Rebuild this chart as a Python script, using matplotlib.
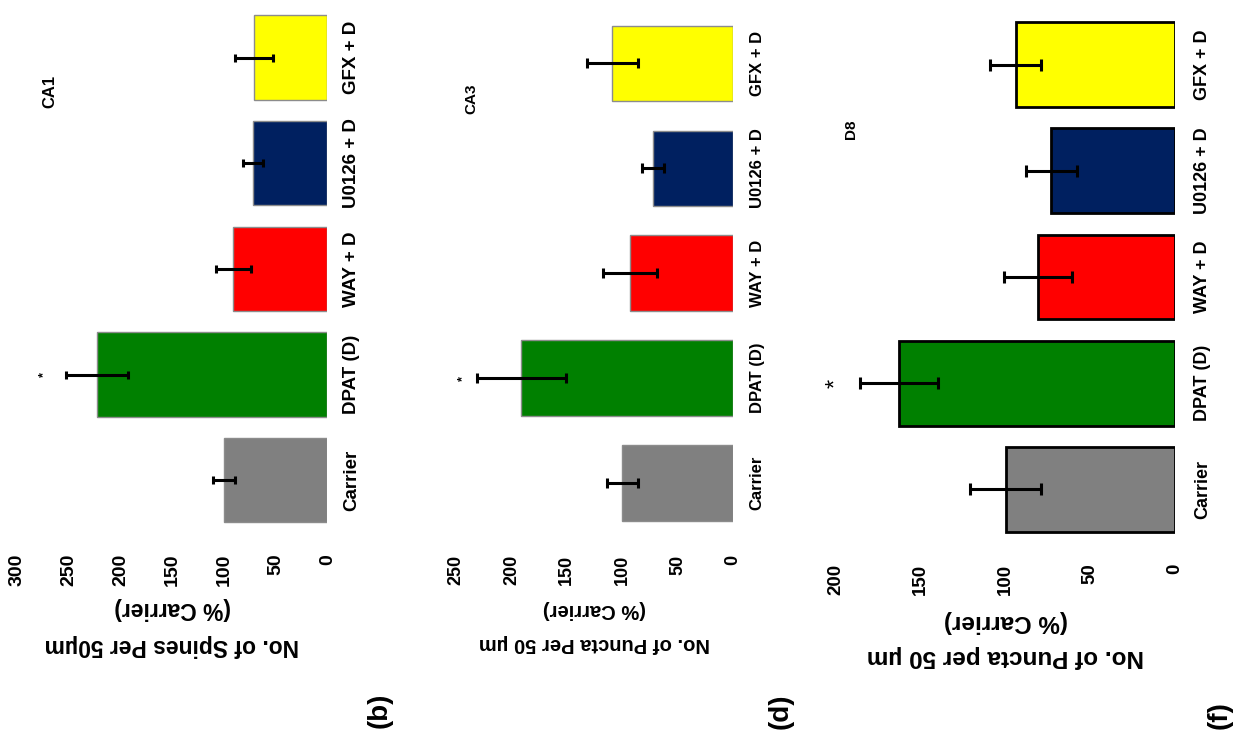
import matplotlib
matplotlib.use('Agg')
import matplotlib.pyplot as plt
import numpy as np

plt.rcParams['font.family'] = ['Liberation Sans', 'DejaVu Sans']
plt.rcParams['font.weight'] = 'bold'

# ---------------- data ----------------
categories = ['Carrier', 'DPAT (D)', 'WAY + D', 'U0126 + D', 'GFX + D']
bar_colors = ['#808080', '#008000', '#FF0000', '#002060', '#FFFF00']

spines_b = [100, 223, 91, 72, 71]
spines_b_err = [11, 30, 17, 10, 18]
ticks_b = [0, 50, 100, 150, 200, 250, 300]

puncta_d = [100, 191, 93, 72, 109]
puncta_d_err = [14, 40, 24, 10, 23]
ticks_d = [0, 50, 100, 150, 200, 250]

puncta_f = [100, 163, 81, 73, 94]
puncta_f_err = [21, 23, 20, 15, 15]
ticks_f = [0, 50, 100, 150, 200]

label_b = 'No. of Spines Per 50µm\n(% Carrier)'
label_d = 'No. of Puncta Per 50 µm\n(% Carrier)'
label_f = 'No. of Puncta per 50 µm\n(% Carrier)'
regions = ['CA1', 'CA3', 'D8']
tags = ['(b)', '(d)', '(f)']
star_index = 1  # DPAT (D) marked significant

# ---------------- layout / style ----------------
W, H = 1238, 734
fig = plt.figure(figsize=(W / 100, H / 100), dpi=100)

panels = [
    dict(vals=spines_b, errs=spines_b_err, ticks=ticks_b, label=label_b,
         box=(17, 327.5, 4.7, 533), height=0.80, edge='#8c8c8c', elw=1.0,
         tfs=14, cfs=13.5, lfs=16.5, tpad=15, cpad=11, lpad=8, ls=1.75,
         reg_pos=(0.106, 0.835), rfs=12, tag_pos=(380, 710), star_off=21,
         star_fs=9, err_lw=2.2, cap=3.2),
    dict(vals=puncta_d, errs=puncta_d_err, ticks=ticks_d, label=label_d,
         box=(456, 733, 11, 535.5), height=0.72, edge='#8c8c8c', elw=1.0,
         tfs=13, cfs=12, lfs=14.5, tpad=14, cpad=12, lpad=11, ls=2.0,
         reg_pos=(0.054, 0.832), rfs=11, tag_pos=(781, 711), star_off=13,
         star_fs=9, err_lw=2.2, cap=3.5),
    dict(vals=puncta_f, errs=puncta_f_err, ticks=ticks_f, label=label_f,
         box=(836, 1175, 11.4, 542.6), height=0.80, edge='black', elw=2.0,
         tfs=13.5, cfs=13, lfs=17.5, tpad=15, cpad=14, lpad=11, ls=1.65,
         reg_pos=(0.044, 0.779), rfs=11, tag_pos=(1220, 715), star_off=14,
         star_fs=17, err_lw=2.2, cap=4.0),
]

y = np.arange(len(categories))
for p, reg, tag in zip(panels, regions, tags):
    l, r, t, b = p['box']
    ax = fig.add_axes([l / W, 1 - b / H, (r - l) / W, (b - t) / H])
    ax.barh(y, p['vals'], height=p['height'], color=bar_colors,
            edgecolor=p['edge'], linewidth=p['elw'], zorder=2)
    ax.errorbar(p['vals'], y, xerr=p['errs'], fmt='none', ecolor='black',
                elinewidth=p['err_lw'], capsize=p['cap'], capthick=p['err_lw'],
                zorder=3)
    ax.set_xlim(p['ticks'][-1], 0)
    ax.set_ylim(-0.5, len(categories) - 0.5)
    ax.set_xticks(p['ticks'])
    ax.set_xticklabels([str(v) for v in p['ticks']], rotation=90,
                       fontsize=p['tfs'], fontweight='bold')
    ax.yaxis.tick_right()
    ax.set_yticks(y)
    ax.set_yticklabels(categories, rotation=90, va='center', ha='left',
                       fontsize=p['cfs'], fontweight='bold')
    ax.tick_params(axis='x', length=0, pad=p['tpad'])
    ax.tick_params(axis='y', length=0, pad=p['cpad'])
    for s in ax.spines.values():
        s.set_visible(False)
    ax.set_xlabel(p['label'], rotation=180, fontsize=p['lfs'], fontweight='bold',
                  labelpad=p['lpad'], linespacing=p['ls'])
    ax.text(p['reg_pos'][0], p['reg_pos'][1], reg, transform=ax.transAxes,
            rotation=90, ha='center', va='center', fontsize=p['rfs'],
            fontweight='bold')
    sv = p['vals'][star_index] + p['errs'][star_index] + p['star_off']
    ax.text(sv, y[star_index], '*', rotation=90, ha='center', va='center',
            fontsize=p['star_fs'],
            fontweight='bold' if p['star_fs'] < 12 else 'normal')
    fig.text(p['tag_pos'][0] / W, 1 - p['tag_pos'][1] / H, tag, rotation=90,
             ha='center', va='center', fontsize=20, fontweight='bold')

fig.savefig('out.png', dpi=100)
